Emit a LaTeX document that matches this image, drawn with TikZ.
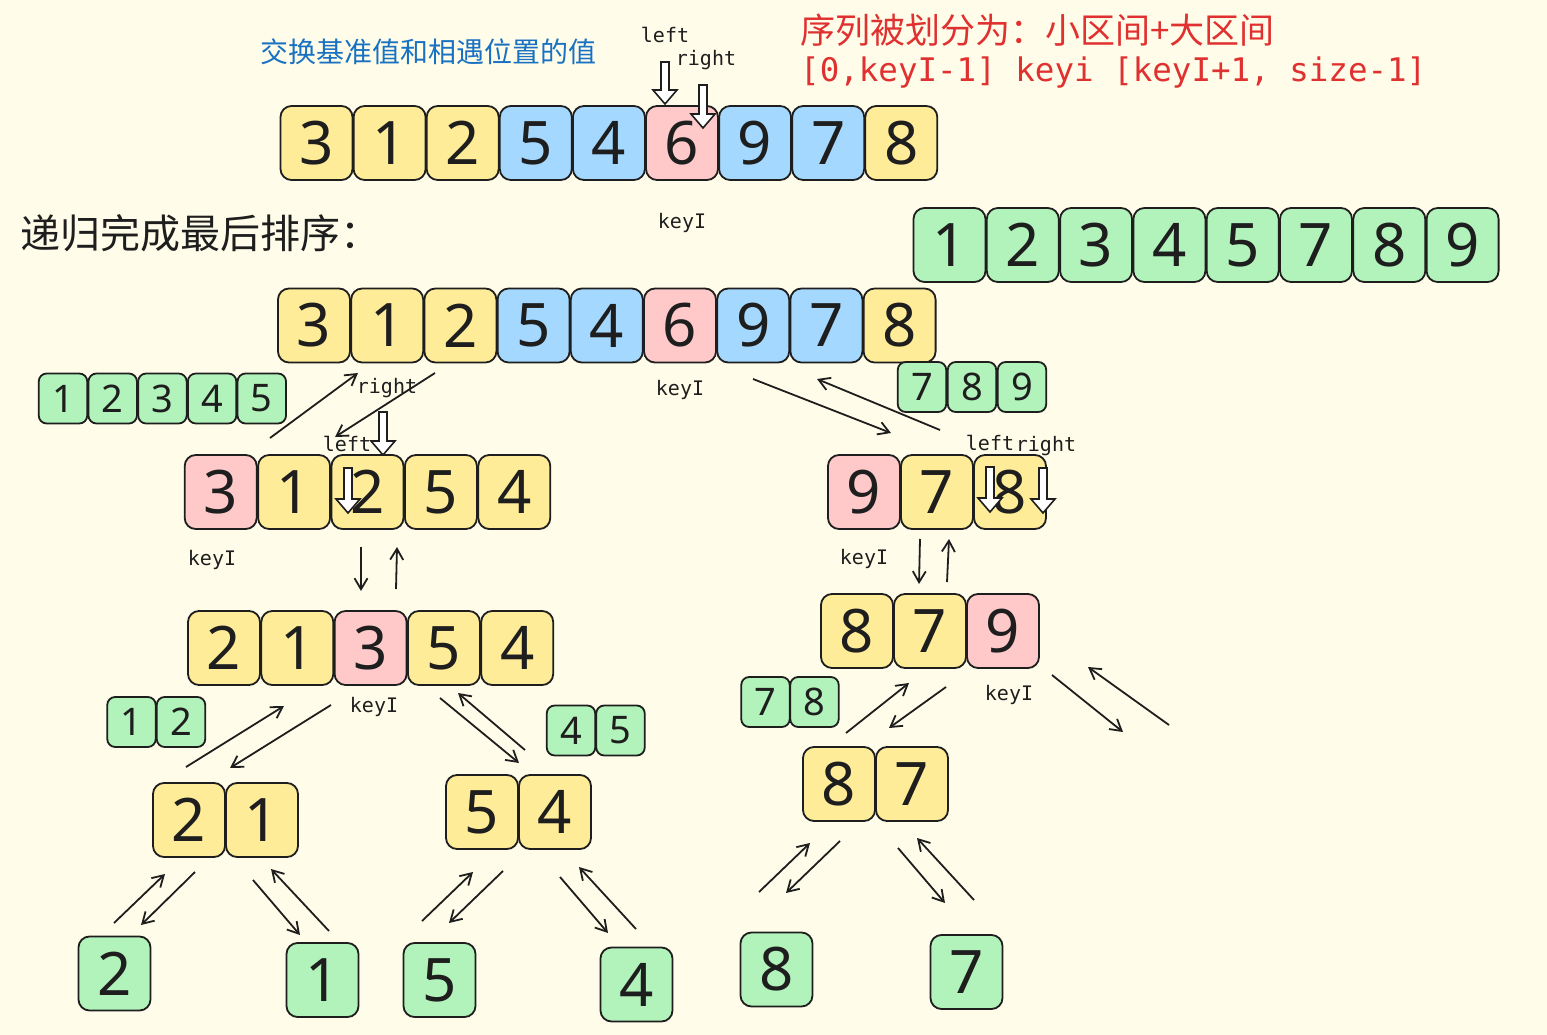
\documentclass[tikz,border=0pt]{standalone}
\usepackage{fontspec}
\setmainfont{Noto Sans}
\newfontfamily\cjkf{Noto Sans CJK SC}
\newfontfamily\monof{DejaVu Sans Mono}
\newfontfamily\digf{Noto Sans}
\usetikzlibrary{arrows.meta}
\definecolor{bg}{HTML}{FFFDE9}
\definecolor{ink}{HTML}{1E1E1E}
\definecolor{cy}{HTML}{FFEC99}
\definecolor{cb}{HTML}{A5D8FF}
\definecolor{cp}{HTML}{FFC9C9}
\definecolor{cg}{HTML}{B2F2BB}
\definecolor{tblue}{HTML}{1971C2}
\definecolor{tred}{HTML}{E03131}
\newcommand\arr[3]{\coordinate (#1s) at (#2); \coordinate (#1e) at (#3); \draw[conn] (#1s) -- (#1e);}
\newcommand\hollow[3]{\draw[hol] ({#1-4},#2) -- ({#1+4},#2) -- ({#1+4},{#3-14}) -- ({#1+12},{#3-14}) -- (#1,#3) -- ({#1-12},{#3-14}) -- ({#1-4},{#3-14}) -- cycle;}
\tikzset{
  cell/.style={draw=ink, line width=1.8pt, rounded corners=11pt, minimum width=72pt, minimum height=74pt, inner sep=0pt, text=ink, font=\fontsize{60}{60}\selectfont\digf},
  smallcell/.style={cell, minimum width=48.5pt, minimum height=50pt, rounded corners=8pt, font=\fontsize{38}{38}\selectfont\digf},
  lbl/.style={font=\fontsize{20}{20}\selectfont\monof, text=ink, inner sep=0pt},
  conn/.style={draw=ink, line width=1.8pt, -{Straight Barb[length=11pt,width=13pt,line width=1.8pt]}},
  hol/.style={draw=ink, line width=1.6pt, fill=white, line join=miter}
}
\begin{document}
\begin{tikzpicture}[x=1pt,y=-1pt]
\useasboundingbox (0,0) rectangle (1547,1035);
\fill[bg] (0,0) rectangle (1547,1035);

% texts
\node[font=\fontsize{28}{28}\selectfont\cjkf, text=tblue, inner sep=0pt, anchor=west] (t1) at (260,52) {交换基准值和相遇位置的值};
\node[font=\fontsize{35}{35}\selectfont\cjkf, text=tred, inner sep=0pt, anchor=west] (t2) at (800,30) {序列被划分为：小区间+大区间};
\node[font=\fontsize{32.5}{32.5}\selectfont\monof, text=tred, inner sep=0pt, anchor=west] (t3) at (800,73) {[0,keyI-1] keyi [keyI+1, size-1]};
\node[font=\fontsize{40}{40}\selectfont\cjkf, text=ink, inner sep=0pt, anchor=west] (t4) at (20,233) {递归完成最后排序：};

% row 1
\foreach \d/\c [count=\i] in {3/cy,1/cy,2/cy,5/cb,4/cb,6/cp,9/cb,7/cb,8/cy}
  \node[cell, fill=\c] (a\i) at ({316.5+(\i-1)*73.1},143) {\d};
% sorted
\foreach \d [count=\i] in {1,2,3,4,5,7,8,9}
  \node[cell, fill=cg] (s\i) at ({949.5+(\i-1)*73.3},245) {\d};
% row 2
\foreach \d/\c [count=\i] in {3/cy,1/cy,2/cy,5/cb,4/cb,6/cp,9/cb,7/cb,8/cy}
  \node[cell, fill=\c] (b\i) at ({314+(\i-1)*73.2},325.5) {\d};
% green small
\foreach \d [count=\i] in {1,2,3,4,5}
  \node[smallcell, fill=cg] (ga\i) at ({63+(\i-1)*49.7},398.5) {\d};
\foreach \d [count=\i] in {7,8,9}
  \node[smallcell, fill=cg] (gb\i) at ({922+(\i-1)*50},387) {\d};
% row 3
\foreach \d/\c [count=\i] in {3/cp,1/cy,2/cy,5/cy,4/cy}
  \node[cell, fill=\c] (c\i) at ({220.7+(\i-1)*73.4},492) {\d};
\foreach \d/\c [count=\i] in {9/cp,7/cy,8/cy}
  \node[cell, fill=\c] (d\i) at ({864+(\i-1)*73},492) {\d};
% row 4
\foreach \d/\c [count=\i] in {2/cy,1/cy,3/cp,5/cy,4/cy}
  \node[cell, fill=\c] (e\i) at ({224+(\i-1)*73.3},648) {\d};
\foreach \d/\c [count=\i] in {8/cy,7/cy,9/cp}
  \node[cell, fill=\c] (f\i) at ({857+(\i-1)*73},631) {\d};
\foreach \d [count=\i] in {1,2}
  \node[smallcell, fill=cg] (gc\i) at ({131.5+(\i-1)*49.5},722) {\d};
\foreach \d [count=\i] in {4,5}
  \node[smallcell, fill=cg] (gd\i) at ({571+(\i-1)*49.5},730.5) {\d};
\foreach \d [count=\i] in {7,8}
  \node[smallcell, fill=cg] (ge\i) at ({765.5+(\i-1)*49},702) {\d};
% row 5
\foreach \d [count=\i] in {2,1}
  \node[cell, fill=cy] (h\i) at ({189+(\i-1)*73},820) {\d};
\foreach \d [count=\i] in {5,4}
  \node[cell, fill=cy] (i\i) at ({482+(\i-1)*73},812) {\d};
\foreach \d [count=\i] in {8,7}
  \node[cell, fill=cy] (j\i) at ({839+(\i-1)*73},784) {\d};
% leaves
\node[cell, fill=cg] (l1) at (114.5,973.5) {2};
\node[cell, fill=cg] (l2) at (322.5,980) {1};
\node[cell, fill=cg] (l3) at (439.5,980) {5};
\node[cell, fill=cg] (l4) at (636.5,984.5) {4};
\node[cell, fill=cg] (l5) at (776.5,969.5) {8};
\node[cell, fill=cg] (l6) at (966.5,972) {7};

% labels
\node[lbl] (k1) at (682,223) {keyI};
\node[lbl] (k2) at (680,390) {keyI};
\node[lbl] (k3) at (212,560) {keyI};
\node[lbl] (k4) at (864,559) {keyI};
\node[lbl] (k5) at (374,707) {keyI};
\node[lbl] (k6) at (1009,695) {keyI};
\node[lbl] (p1) at (665,35) {left};
\node[lbl] (p2) at (706,60) {right};
\node[lbl] (p3) at (387,388) {right};
\node[lbl] (p4) at (347,444) {left};
\node[lbl] (p5) at (990,443) {left};
\node[lbl] (p6) at (1046,446) {right};

% hollow pointers
\hollow{665}{62}{104}
\hollow{703}{85}{128}
\hollow{383}{412}{455}
\hollow{348}{468}{513}
\hollow{990}{467}{512}
\hollow{1043}{468}{513}

% connectors
\arr{q1}{270,438}{358,373}
\arr{q2}{435,373}{335,437}
\arr{q3}{753,379}{891,433}
\arr{q4}{940,430}{817,379}
\arr{q5}{361,547}{361,591}
\arr{q6}{396,589}{397,547}
\arr{q7}{920,539}{919,584}
\arr{q8}{947,582}{949,539}
\arr{q9}{186,767}{284,706}
\arr{q10}{331,705}{230,768}
\arr{q11}{440,698}{519,763}
\arr{q12}{525,750}{458,693}
\arr{q13}{846,733}{909,683}
\arr{q14}{946,687}{889,728}
\arr{q15}{1052,675}{1123,732}
\arr{q16}{1169,725}{1088,667}
\arr{q17}{114,923}{165,874}
\arr{q18}{195,872}{141,925}
\arr{q19}{253,880}{300,935}
\arr{q20}{329,931}{271,869}
\arr{q21}{422,921}{473,872}
\arr{q22}{503,871}{449,923}
\arr{q23}{560,877}{608,933}
\arr{q24}{636,929}{579,867}
\arr{q25}{759,892}{810,843}
\arr{q26}{840,841}{786,893}
\arr{q27}{898,848}{945,903}
\arr{q28}{974,900}{917,838}
\end{tikzpicture}
\end{document}
